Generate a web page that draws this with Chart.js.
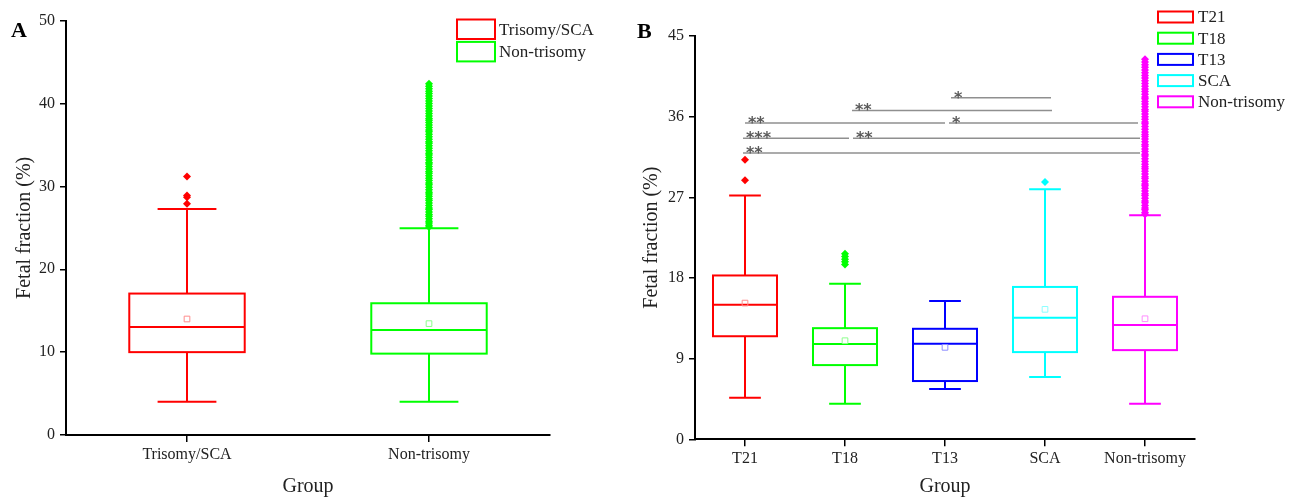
<!DOCTYPE html>
<html>
<head>
<meta charset="utf-8">
<script src="https://cdn.jsdelivr.net/npm/chart.js@4.4.1/dist/chart.umd.min.js"></script>
<style>
  body { margin: 0; background: #fff; width: 1304px; height: 500px; overflow: hidden; position: relative; }
  .panel { position: absolute; top: 0; height: 500px; }
  #pa { left: 0; width: 620px; }
  #pb { left: 620px; width: 684px; }
</style>
</head>
<body>
<div class="panel" id="pa"><canvas id="chartA"></canvas></div>
<div class="panel" id="pb"><canvas id="chartB"></canvas></div>
<script>
// Valores atípicos del grupo no trisomía (columna densa que llega hasta ~42.5)
const atipicosNoTrisomia = [25.1, 25.3, 25.6, 25.8, 26.1, 26.4, 26.6, 26.9, 27.2, 27.4, 27.7, 28.0,
  28.3, 28.5, 28.8, 29.1, 29.3, 29.6, 29.9, 30.2, 30.4, 30.7, 31.0, 31.3, 31.6, 31.8, 32.1, 32.4,
  32.7, 32.9, 33.2, 33.5, 33.8, 34.0, 34.3, 34.6, 34.9, 35.2, 35.4, 35.7, 36.0, 36.3, 36.6, 36.8,
  37.1, 37.4, 37.7, 38.0, 38.2, 38.5, 38.8, 39.1, 39.4, 39.7, 40.0, 40.3, 40.6, 40.9, 41.2, 41.5,
  41.8, 42.1, 42.4];

// Panel A
const gruposA = ['Trisomy/SCA', 'Non-trisomy'];
const minA = [4.0, 4.0];
const q1A = [10.0, 9.82];
const medianaA = [13.04, 12.68];
const q3A = [17.07, 15.9];
const maxA = [27.26, 24.96];
const mediaA = [14.0, 13.44];
const atipicosA = [[31.2, 28.9, 28.7, 27.9], atipicosNoTrisomia];
const ticksA = [0, 10, 20, 30, 40, 50];

// Panel B
const gruposB = ['T21', 'T18', 'T13', 'SCA', 'Non-trisomy'];
const minB = [4.64, 3.97, 5.6, 6.95, 3.97];
const q1B = [11.5, 8.28, 6.5, 9.73, 9.95];
const medianaB = [15.0, 10.62, 10.66, 13.56, 12.74];
const q3B = [18.28, 12.4, 12.33, 17.0, 15.9];
const maxB = [27.2, 17.35, 15.42, 27.9, 25.0];
const mediaB = [15.2, 11.0, 10.26, 14.5, 13.45];
const atipicosB = [[31.2, 28.9], [20.7, 20.4, 20.1, 19.8, 19.5], [], [28.7], atipicosNoTrisomia];
const ticksB = [0, 9, 18, 27, 36, 45];

// Comparaciones significativas del panel B (posición en índice de grupo y nivel en %)
const sigEtiqueta = ['*', '**', '**', '*', '***', '**', '**'];
const sigDesde = [2.06, 1.07, 0.0, 2.04, -0.02, 1.08, -0.02];
const sigHasta = [3.06, 3.07, 2.0, 3.93, 1.04, 3.95, 3.95];
const sigNivel = [38.1, 36.7, 35.3, 35.3, 33.6, 33.6, 31.95];

const coloresA = ['#ff0000', '#00ff00'];
const mediaColA = ['#ff8c8c', '#8cff8c'];
const coloresB = ['#ff0000', '#00ff00', '#0000ff', '#00ffff', '#ff00ff'];
const mediaColB = ['#ff8c8c', '#8cff8c', '#8c8cff', '#8cffff', '#ff8cff'];

const FUENTE = 'Liberation Serif, Times New Roman, serif';

function crearPlugin(p) {
  return {
    id: 'cajas',
    beforeDatasetsDraw(chart) {
      const { ctx, scales: { x, y } } = chart;
      const paso = x.getPixelForValue(1) - x.getPixelForValue(0);
      const hb = paso * p.anchoCaja / 2;
      const hc = paso * p.anchoTope / 2;
      ctx.save();
      ctx.lineWidth = 2;
      p.grupos.forEach((g, i) => {
        const cx = x.getPixelForValue(i);
        ctx.strokeStyle = p.colores[i];
        ctx.beginPath();
        ctx.moveTo(cx, y.getPixelForValue(p.q3[i]));
        ctx.lineTo(cx, y.getPixelForValue(p.max[i]));
        ctx.moveTo(cx, y.getPixelForValue(p.q1[i]));
        ctx.lineTo(cx, y.getPixelForValue(p.min[i]));
        ctx.moveTo(cx - hc, y.getPixelForValue(p.max[i]));
        ctx.lineTo(cx + hc, y.getPixelForValue(p.max[i]));
        ctx.moveTo(cx - hc, y.getPixelForValue(p.min[i]));
        ctx.lineTo(cx + hc, y.getPixelForValue(p.min[i]));
        ctx.moveTo(cx - hb, y.getPixelForValue(p.mediana[i]));
        ctx.lineTo(cx + hb, y.getPixelForValue(p.mediana[i]));
        ctx.stroke();
        const yt = y.getPixelForValue(p.q3[i]);
        const yb = y.getPixelForValue(p.q1[i]);
        ctx.strokeRect(cx - hb, yt, 2 * hb, yb - yt);
      });
      ctx.restore();
    },
    afterDatasetsDraw(chart) {
      if (!p.sig) return;
      const { ctx, scales: { x, y } } = chart;
      ctx.save();
      ctx.strokeStyle = '#8f8f8f';
      ctx.lineWidth = 1.5;
      ctx.fillStyle = '#5a5a5a';
      ctx.font = 'bold 16px DejaVu Sans';
      ctx.textBaseline = 'alphabetic';
      p.sig.etiqueta.forEach((t, k) => {
        const x1 = x.getPixelForValue(p.sig.desde[k]);
        const x2 = x.getPixelForValue(p.sig.hasta[k]);
        const yy = y.getPixelForValue(p.sig.nivel[k]);
        ctx.beginPath();
        ctx.moveTo(x1, yy);
        ctx.lineTo(x2, yy);
        ctx.stroke();
        ctx.fillText(t, x1 + 3, yy + 5);
      });
      ctx.restore();
    },
    afterDraw(chart) {
      const ctx = chart.ctx;
      const L = p.leyenda;
      ctx.save();
      ctx.lineWidth = 2;
      ctx.font = L.fuente + 'px ' + FUENTE;
      ctx.textBaseline = 'middle';
      ctx.fillStyle = '#222';
      p.grupos.forEach((g, i) => {
        const top = L.y + i * L.paso;
        ctx.strokeStyle = p.colores[i];
        ctx.strokeRect(L.x, top, L.w, L.h);
        ctx.fillText(g, L.textoX, top + L.h / 2 + 1);
      });
      ctx.font = 'bold 22px ' + FUENTE;
      ctx.textBaseline = 'alphabetic';
      ctx.fillStyle = '#000';
      ctx.fillText(p.letra, p.letraX, p.letraY);
      ctx.restore();
    }
  };
}

function crearGrafico(id, p) {
  const datasets = p.grupos.map((g, i) => ({
    label: g,
    data: p.atipicos[i].map(v => ({ x: g, y: v })),
    pointStyle: 'rectRot',
    pointRadius: 4,
    backgroundColor: p.colores[i],
    borderWidth: 0
  }));
  datasets.push({
    label: 'Mean',
    data: p.grupos.map((g, i) => ({ x: g, y: p.media[i] })),
    pointStyle: 'rect',
    pointRadius: 4,
    backgroundColor: 'rgba(0,0,0,0)',
    borderColor: p.mediaCol,
    borderWidth: 1
  });

  return new Chart(document.getElementById(id), {
    type: 'scatter',
    data: { labels: p.grupos, datasets },
    options: {
      responsive: true,
      maintainAspectRatio: false,
      animation: false,
      events: [],
      layout: { padding: { left: 0, top: p.area.top, right: p.ancho - p.area.right, bottom: 0 } },
      plugins: { legend: { display: false }, tooltip: { enabled: false } },
      scales: {
        x: {
          type: 'category',
          labels: p.grupos,
          offset: true,
          afterFit: s => { s.height = 500 - p.area.bottom; },
          grid: { display: true, drawOnChartArea: false, drawTicks: true, offset: false, tickLength: 7, color: '#000', lineWidth: 1.5 },
          border: { display: true, color: '#000', width: 2 },
          ticks: { color: '#222', padding: 3, font: { family: FUENTE, size: 16 }, maxRotation: 0, autoSkip: false },
          title: { display: true, text: 'Group', color: '#222', font: { family: FUENTE, size: 20 }, padding: { top: 0, bottom: 1 } }
        },
        y: {
          min: 0,
          max: p.ticks[p.ticks.length - 1],
          afterFit: s => { s.width = p.area.left; },
          afterBuildTicks: s => { s.ticks = p.ticks.map(v => ({ value: v })); },
          grid: { display: true, drawOnChartArea: false, drawTicks: true, tickLength: 6, color: '#000', lineWidth: 1.5 },
          border: { display: true, color: '#000', width: 2 },
          ticks: { color: '#222', padding: 5, font: { family: FUENTE, size: 16 } },
          title: { display: true, text: 'Fetal fraction (%)', color: '#222', font: { family: FUENTE, size: 20 }, padding: { top: p.tituloY, bottom: 0 } }
        }
      }
    },
    plugins: [crearPlugin(p)]
  });
}

crearGrafico('chartA', {
  grupos: gruposA, min: minA, q1: q1A, mediana: medianaA, q3: q3A, max: maxA, media: mediaA,
  atipicos: atipicosA, ticks: ticksA, colores: coloresA, mediaCol: mediaColA,
  ancho: 620, area: { left: 66, right: 550, top: 20.7, bottom: 435 },
  anchoCaja: 0.477, anchoTope: 0.243, tituloY: 13,
  leyenda: { x: 457, y: 19.5, w: 38, h: 19.5, paso: 22.4, textoX: 499, fuente: 17 },
  letra: 'A', letraX: 11, letraY: 37
});

crearGrafico('chartB', {
  grupos: gruposB, min: minB, q1: q1B, mediana: medianaB, q3: q3B, max: maxB, media: mediaB,
  atipicos: atipicosB, ticks: ticksB, colores: coloresB, mediaCol: mediaColB,
  ancho: 684, area: { left: 75, right: 575, top: 36, bottom: 439.3 },
  anchoCaja: 0.64, anchoTope: 0.317, tituloY: 19.5,
  sig: { etiqueta: sigEtiqueta, desde: sigDesde, hasta: sigHasta, nivel: sigNivel },
  leyenda: { x: 538, y: 11.5, w: 35, h: 11, paso: 21.2, textoX: 578, fuente: 17 },
  letra: 'B', letraX: 17, letraY: 38
});
</script>
</body>
</html>
